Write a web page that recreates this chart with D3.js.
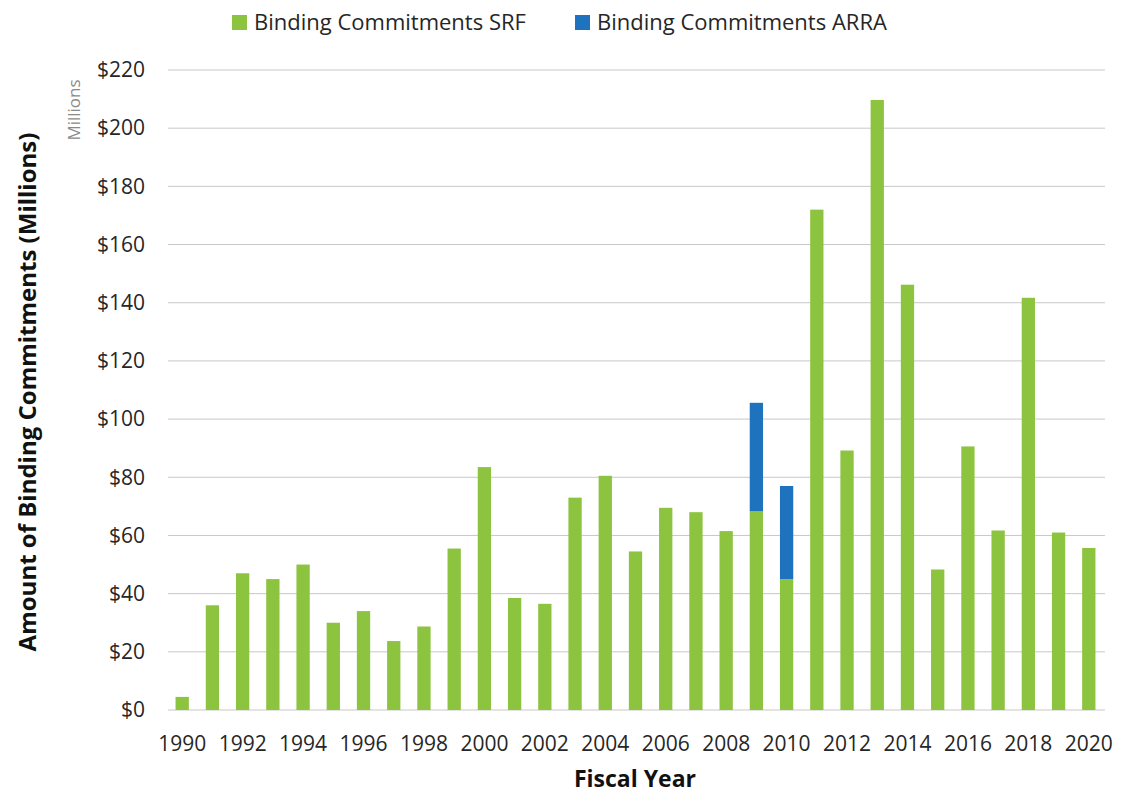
<!DOCTYPE html>
<html lang="en">
<head>
  <meta charset="UTF-8">
  <title>Binding Commitments by Fiscal Year</title>
  <script src="https://d3js.org/d3.v7.min.js"></script>
  <style>
    body { margin: 0; background: #fff; font-family: 'Open Sans', sans-serif; }
    .grid line { stroke: #c8c8c8; stroke-width: 1px; }
    .tick text { fill: #262626; font-family: 'Open Sans', sans-serif; font-size: 21px; }
  </style>
</head>
<body>
  <svg id="chart"></svg>
  <script>
    const years = d3.range(1990, 2021);
    const srf = [4.5, 36, 47, 45, 50, 30, 34, 23.7, 28.7, 55.5, 83.5, 38.5, 36.5, 73, 80.5, 54.5,
                 69.5, 68, 61.5, 68.3, 45, 172, 89.2, 209.7, 146.2, 48.3, 90.6, 61.7, 141.7, 61, 55.7];
    const arra = [0, 0, 0, 0, 0, 0, 0, 0, 0, 0, 0, 0, 0, 0, 0, 0,
                  0, 0, 0, 37.3, 32, 0, 0, 0, 0, 0, 0, 0, 0, 0, 0];
    const yTicks = [0, 20, 40, 60, 80, 100, 120, 140, 160, 180, 200, 220];
    const seriesNames = ["Binding Commitments SRF", "Binding Commitments ARRA"];
    const colors = ["#8cc43f", "#1f73be"];

    const width = 1128, height = 795;
    const margin = { top: 70, right: 23, bottom: 85, left: 168 };
    const innerW = width - margin.left - margin.right;
    const innerH = height - margin.top - margin.bottom;

    const svg = d3.select("#chart").attr("width", width).attr("height", height);
    const g = svg.append("g").attr("transform", `translate(${margin.left},${margin.top})`);

    const x = d3.scaleBand().domain(years).range([0, innerW - 2]).paddingInner(0.56).paddingOuter(0.25);
    const y = d3.scaleLinear().domain([0, 220]).range([innerH, 0]);

    // gridlines
    g.append("g").attr("class", "grid")
      .selectAll("line").data(yTicks).enter().append("line")
      .attr("x1", 0).attr("x2", innerW)
      .attr("y1", d => y(d)).attr("y2", d => y(d));

    const data = years.map((yr, i) => ({ year: yr, srf: srf[i], arra: arra[i] }));
    const stack = d3.stack().keys(["srf", "arra"])(data);

    g.selectAll(".series").data(stack).enter().append("g")
      .attr("fill", (d, i) => colors[i])
      .selectAll("rect").data(d => d).enter().append("rect")
      .attr("x", d => x(d.data.year))
      .attr("width", x.bandwidth())
      .attr("y", d => y(d[1]))
      .attr("height", d => y(d[0]) - y(d[1]));

    // y axis
    const yAxis = g.append("g")
      .call(d3.axisLeft(y).tickValues(yTicks).tickSize(0).tickPadding(23).tickFormat(d => "$" + d));
    yAxis.select(".domain").remove();

    // x axis
    const xAxis = g.append("g").attr("transform", `translate(0,${innerH})`)
      .call(d3.axisBottom(x).tickValues(years.filter(d => d % 2 === 0)).tickSize(0).tickPadding(26));
    xAxis.select(".domain").remove();

    // axis titles
    svg.append("text")
      .attr("transform", `translate(36,392) rotate(-90)`)
      .attr("text-anchor", "middle")
      .style("font-size", "24px").style("font-weight", "bold").attr("fill", "#111")
      .text("Amount of Binding Commitments (Millions)");

    svg.append("text")
      .attr("transform", `translate(80,110) rotate(-90)`)
      .attr("text-anchor", "middle")
      .style("font-size", "17px").attr("fill", "#8a8a8a")
      .text("Millions");

    svg.append("text")
      .attr("x", 635).attr("y", 787)
      .attr("text-anchor", "middle")
      .style("font-size", "23px").style("font-weight", "bold").attr("fill", "#111")
      .text("Fiscal Year");

    // legend
    const legendX = [232, 575];
    seriesNames.forEach((name, i) => {
      const lg = svg.append("g").attr("transform", `translate(${legendX[i]},15)`);
      lg.append("rect").attr("width", 15).attr("height", 15).attr("fill", colors[i]);
      lg.append("text").attr("x", 22).attr("y", 15)
        .style("font-size", "22px").attr("fill", "#262626").text(name);
    });
  </script>
</body>
</html>
